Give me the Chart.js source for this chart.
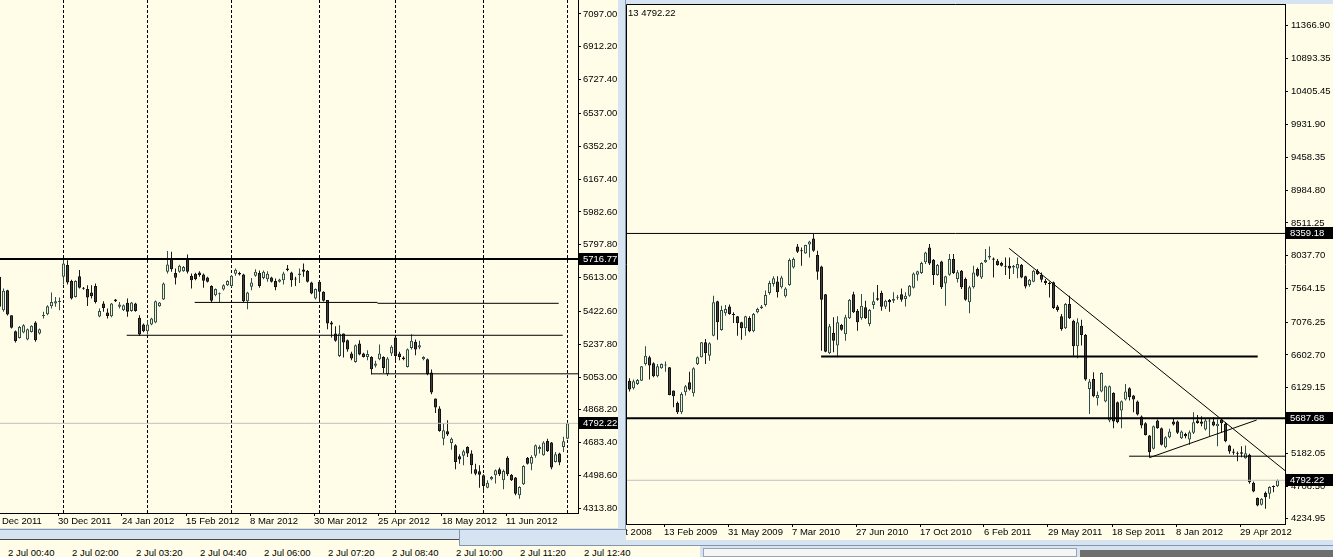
<!DOCTYPE html>
<html>
<head>
<meta charset="utf-8">
<script src="https://cdn.jsdelivr.net/npm/chart.js@4.4.1/dist/chart.umd.min.js"></script>
<style>
  html, body { margin:0; padding:0; }
  body { width:1333px; height:557px; overflow:hidden; position:relative; background:#d6e3f1; font-family:"Liberation Sans", Arial, sans-serif; }
  #w3 { position:absolute; left:0; top:539px; width:700px; height:18px; background:#fffde8; border-top:1px solid #4a4a4a; box-sizing:border-box; }
  #w3 .t { position:absolute; top:7px; font-size:9.5px; line-height:11px; color:#000; white-space:nowrap; }
  #sb { position:absolute; left:703px; top:548px; width:374px; height:9px; background:#f6f6f6; border:1px solid #98a4b4; box-sizing:border-box; }
  #dk { position:absolute; left:1080px; top:550px; width:253px; height:7px; background:#6e6e6e; }
  #wR { position:absolute; left:459px; top:0; width:874px; height:546px; background:#d6e3f1; border-left:1px solid #8494ac; border-bottom:1px solid #8494ac; box-sizing:border-box; }
  #wL { position:absolute; left:0; top:0; width:626px; height:530px; background:#d6e3f1; border-right:1px solid #8494ac; border-bottom:1px solid #8494ac; box-sizing:border-box; }
  canvas { position:absolute; display:block; background:#fffde8; }
  #cL { left:0; top:0; }
  #cR { left:626px; top:4px; }
</style>
</head>
<body>
<div id="w3"></div>
<div id="sb"></div>
<div id="dk"></div>
<div id="wR"></div>
<canvas id="cR" width="714" height="536"></canvas>
<div id="wL"></div>
<canvas id="cL" width="618" height="528"></canvas>
<script>
// ---------------- DATA ----------------
// Left chart: daily candles (7 Dec 2011 .. 2 Jul 2012)
const leftO = [5617,5429,5542,5401,5311,5273,5303,5264,5307,5360, 5298,5396,5407,5452,5467,5476,5617,5683,5593,5504,
  5621,5555,5548,5529,5566,5394,5467,5416,5395,5489, 5448,5429,5471,5425,5467,5386,5349,5311,5349,5360,
  5452,5489,5645,5717,5638,5645,5649,5717,5623,5634, 5641,5630,5613,5565,5514,5519,5546,5570,5565,5634,
  5638,5630,5480,5561,5623,5638,5611,5604,5613,5593, 5589,5598,5664,5642,5606,5627,5658,5651,5585,5495,
  5589,5533,5486,5360,5298,5172,5298,5260,5185,5138, 5241,5185,5166,5166,5116,5153,5166,5069,5185,5275,
  5185,5163,5110,5217,5251,5219,5153,5153,5078,4932, 4875,4706,4748,4682,4669,4607,4609,4659,4622,4534,
  4522,4500,4430,4477,4500,4534,4472,4599,4503,4487, 4387,4449,4599,4565,4609,4646,4612,4693,4684,4575,
  4622,4659,4706];
const leftH = [5626,5551,5545,5401,5315,5340,5350,5326,5345,5367, 5326,5420,5457,5529,5504,5500,5711,5711,5600,5598,
  5655,5560,5570,5570,5580,5439,5480,5439,5470,5492, 5476,5461,5495,5476,5471,5401,5354,5373,5386,5484,
  5476,5585,5762,5758,5664,5685,5678,5743,5636,5640, 5649,5636,5617,5570,5552,5529,5575,5598,5627,5664,
  5645,5634,5533,5611,5660,5653,5653,5649,5617,5608, 5606,5645,5683,5645,5617,5664,5692,5655,5589,5552,
  5595,5536,5486,5369,5339,5345,5298,5264,5195,5236, 5260,5189,5204,5170,5144,5236,5170,5166,5232,5278,
  5195,5170,5214,5294,5264,5257,5170,5157,5095,4932, 4888,4791,4810,4712,4674,4618,4644,4663,4641,4565,
  4556,4505,4472,4496,4532,4543,4532,4607,4507,4490, 4438,4556,4603,4612,4673,4669,4691,4706,4687,4631,
  4626,4716,4795];
const leftL = [5429,5420,5400,5326,5247,5270,5300,5260,5303,5251, 5292,5382,5401,5439,5448,5429,5574,5574,5490,5500,
  5551,5545,5453,5495,5467,5390,5420,5382,5390,5476, 5439,5425,5392,5420,5420,5285,5305,5292,5345,5356,
  5448,5486,5636,5645,5574,5640,5645,5636,5551,5598, 5617,5555,5585,5476,5508,5472,5540,5565,5560,5623,
  5625,5476,5435,5542,5617,5555,5604,5589,5585,5542, 5585,5574,5649,5561,5565,5583,5617,5585,5519,5490,
  5476,5478,5322,5275,5251,5166,5163,5195,5148,5134, 5176,5163,5148,5067,5106,5148,5076,5059,5172,5144,
  5148,5148,5106,5208,5176,5210,5148,5063,4956,4851, 4745,4669,4721,4644,4534,4565,4556,4603,4509,4500,
  4430,4411,4427,4472,4453,4496,4421,4496,4468,4387, 4368,4445,4560,4528,4599,4622,4609,4631,4534,4571,
  4556,4631,4702];
const leftC = [5448,5538,5405,5330,5255,5335,5345,5322,5341,5260, 5322,5401,5452,5476,5480,5480,5692,5585,5495,5593,
  5555,5550,5500,5508,5476,5424,5442,5397,5467,5480, 5461,5457,5420,5472,5425,5292,5311,5349,5382,5480,
  5472,5580,5687,5660,5612,5679,5673,5645,5598,5604, 5626,5595,5589,5482,5548,5525,5570,5593,5623,5657,
  5630,5480,5529,5585,5645,5565,5645,5634,5589,5559, 5602,5636,5655,5598,5602,5636,5645,5589,5523,5548,
  5533,5482,5354,5349,5257,5298,5247,5208,5157,5232, 5180,5166,5182,5097,5129,5185,5104,5157,5223,5172,
  5166,5153,5210,5257,5208,5232,5166,5069,4966,4881, 4749,4753,4729,4706,4575,4588,4635,4622,4556,4509,
  4503,4440,4458,4490,4528,4505,4524,4505,4472,4396, 4434,4552,4565,4603,4669,4659,4684,4635,4543,4618,
  4571,4691,4792.22];
const leftTickIdx = [-1, 15, 31, 47, 63, 79, 95, 111, 127];
const leftTickLabels = ['7 Dec 2011','30 Dec 2011','24 Jan 2012','15 Feb 2012','8 Mar 2012','30 Mar 2012','25 Apr 2012','18 May 2012','11 Jun 2012'];
const leftMonthIdx = [16, 37, 58, 80, 99, 121, 142];
const leftYTicks = [7097.00, 6912.20, 6727.40, 6537.00, 6352.20, 6167.40, 5982.60, 5797.80, 5613.00, 5422.60, 5237.80, 5053.00, 4868.20, 4683.40, 4498.60, 4313.80];
const leftLevelValues = [5716.77, 5473, 5468, 5288, 5071, 4792.22];
const leftLevelStart  = [-10, 48.8, 94.5, 31.8, 93.0, -10];
const leftLevelEnd    = [200, 94.5, 139.8, 140.8, 200, 200];
const leftTagValues = [5716.77, 4792.22];

// Right chart: weekly candles (2008 .. Jul 2012)
const rightO = [6232,6122,6184,6232,6473,6569,6483,6295,6410,6449, 6425,6088,5910,5775,6064,6208,6050,6473,6569,6786,
  6593,6882,7378,6964,7204,7305,7185,7161,7074,6988, 7137,6945,7219,7277,7325,7498,7628,7666,7580,7450,
  7613,7868,8172,8109,8070,8200,8287,8046,7883,7479, 6627,6920,6738,7036,6901,7132,7479,7243,7132,7291,
  7050,7325,7421,7498,7301,7397,7387,7430,7479,7411, 7459,7575,7763,7787,7941,8157,7979,7758,7955,7637,
  7763,7989,7700,7820,7700,7363,7580,7844,7724,7941, 8013,7998,7965,7931,7892,7892,7868,7854,7907,7739,
  7613,7661,7820,7758,7676,7642,7652,7305,7161,6988, 7339,7099,6728,7026,6892,6112,6256,5977,6074,5929,
  5655,6054,5920,5799,5958,6122,6016,5929,5713,5616, 5438,5246,5655,5544,5270,5414,5640,5640,5400,5462,
  5381,5477,5655,5640,5525,5640,5640,5573,5669,5607, 5294,5207,5188,5198,5111,5159,4755,4534,4438,4611,
  4596,4707,4707];
const rightH = [6266,6247,6256,6444,6728,6593,6497,6473,6480,6507, 6430,6090,5929,6064,6170,6362,6425,6579,6790,6834,
  6786,7459,7387,7315,7325,7334,7219,7165,7084,7171, 7161,7209,7286,7325,7536,7676,7739,7739,7748,7580,
  7998,8013,8205,8157,8195,8253,8350,8109,7892,7483, 7050,7147,7161,7050,7185,7411,7517,7267,7484,7387,
  7267,7508,7613,7532,7402,7411,7508,7469,7565,7508, 7613,7796,7820,7950,8095,8205,7989,7917,7965,7748,
  8061,8061,7830,7830,7724,7604,7892,7868,7941,8133, 8172,8013,7989,7950,8013,8013,7902,8013,7917,7748,
  7700,7835,7844,7796,7700,7661,7666,7325,7195,7354, 7459,7113,7132,7113,6906,6256,6353,6074,6353,6160,
  6160,6064,5929,5944,6184,6136,6025,5944,5727,5631, 5448,5583,5669,5554,5429,5535,5679,5655,5510,5477,
  5510,5775,5737,5718,5679,5679,5703,5669,5689,5631, 5304,5246,5207,5284,5294,5174,4774,4543,4534,4630,
  4707,4717,4803];
const rightL = [6074,6102,6170,6227,6449,6247,6280,6280,6405,6362, 6020,5847,5751,5751,6016,6088,6001,6459,6565,6473,
  6521,6872,6824,6954,7171,7185,7065,6882,6824,6882, 6930,6930,7204,7267,7305,7474,7594,7435,7565,7435,
  7604,7854,8075,7892,8066,8013,8095,7690,6665,6641, 6617,6641,6569,6954,6810,7123,7209,6954,7113,7123,
  7017,7267,7387,7243,7267,7228,7354,7402,7373,7305, 7445,7565,7676,7772,7917,7902,7613,7748,7556,7315,
  7748,7772,7650,7556,7387,7204,7565,7734,7700,7931, 7979,7724,7892,7883,7758,7700,7772,7710,7710,7565,
  7589,7652,7758,7652,7613,7435,7267,7228,6954,6978, 7123,6593,6555,6738,6232,5751,5992,5871,6064,5920,
  5631,5544,5616,5544,5944,5944,5775,5727,5544,5438, 5126,5236,5535,5294,5256,5400,5583,5462,5390,5400,
  5304,5462,5607,5573,5510,5429,5573,5284,5487,5342, 5174,5159,5068,5126,5102,4741,4620,4418,4428,4380,
  4524,4620,4693];
const rightC = [6102,6223,6242,6439,6593,6449,6295,6439,6473,6459, 6025,6006,5775,6040,6150,6102,6410,6569,6786,6632,
  6771,7363,7074,7252,7267,7195,7180,7065,6988,7161, 6945,7195,7267,7305,7469,7642,7710,7508,7724,7565,
  7974,7989,8095,8100,8191,8244,8109,7806,7402,6651, 7017,6810,7074,6969,7147,7402,7219,7074,7315,7132,
  7253,7378,7402,7301,7387,7363,7411,7440,7402,7459, 7604,7782,7811,7931,8085,7926,7758,7902,7580,7739,
  7989,7787,7800,7580,7402,7580,7796,7748,7931,7974, 8037,7979,7902,7892,7878,7854,7892,7917,7724,7594,
  7690,7820,7772,7690,7642,7628,7281,7253,6978,7339, 7132,6728,7074,6892,6247,6218,6006,6025,6343,6151,
  6151,5640,5631,5934,6074,5992,5958,5742,5583,5448, 5198,5573,5544,5304,5414,5496,5597,5477,5496,5429,
  5486,5631,5621,5607,5655,5655,5583,5607,5616,5357, 5207,5188,5174,5174,5183,4765,4630,4428,4524,4548,
  4693,4693,4792.22];
const rightTickIdx = [-7, 9, 25, 41, 57, 73, 89, 105, 121, 137, 153];
const rightTickLabels = ['26 Oct 2008','13 Feb 2009','31 May 2009','7 Mar 2010','27 Jun 2010','17 Oct 2010','6 Feb 2011','29 May 2011','18 Sep 2011','8 Jan 2012','29 Apr 2012'];
const rightYTicks = [11366.90, 10893.35, 10405.45, 9931.90, 9458.35, 8984.80, 8511.25, 8037.70, 7564.15, 7076.25, 6602.70, 6129.15, 5655.60, 5182.05, 4708.50, 4234.95];
const rightLevelValues = [8359.18, 6580, 5687.68, 5140, 4792.22];
const rightLevelStart  = [-10, 47.9, -10, 124.9, -10];
const rightLevelEnd    = [200, 157.05, 200, 200, 200];
const rightTrendX = [[94.9, 170], [129.95, 156.8]];
const rightTrendY = [[8144, 4646], [5118, 5663]];
const rightTagValues = [8359.18, 5687.68, 4792.22];
const rightTitle = '13 4792.22';

// Third (background) window time labels
const w3Labels = ['2 Jul 00:40','2 Jul 02:00','2 Jul 03:20','2 Jul 04:40','2 Jul 06:00','2 Jul 07:20','2 Jul 08:40','2 Jul 10:00','2 Jul 11:20','2 Jul 12:40'];

// ---------------- STYLE ----------------
const FAMILY = '"Liberation Sans", Arial, sans-serif';
const FONT = {family: FAMILY, size: 9.5};
const FONT_CSS = '9.5px ' + FAMILY;
const BULL_FILL = '#f4f1c4', BULL_LINE = '#2f4f4f', BEAR_FILL = '#404040', BEAR_LINE = '#111111';
const BULL_WICK = '#2f4f4f', BEAR_WICK = '#1a1a1a';

const w3 = document.getElementById('w3');
w3Labels.forEach((t, i) => {
  const s = document.createElement('span');
  s.className = 't'; s.textContent = t; s.style.left = (8 + 64 * i) + 'px';
  w3.appendChild(s);
});

function candles(O, H, L, C) {
  const body = [], wick = [];
  for (let i = 0; i < O.length; i++) {
    body.push({x: i, y: [O[i], C[i]]});
    wick.push({x: i, y: [L[i], H[i]]});
  }
  const up = c => C[c.dataIndex] >= O[c.dataIndex];
  return [
    {type: 'bar', data: body, order: 2, grouped: false, barThickness: 3, minBarLength: 1,
     borderWidth: 1, borderSkipped: false, inflateAmount: 0,
     backgroundColor: c => up(c) ? BULL_FILL : BEAR_FILL,
     borderColor: c => up(c) ? BULL_LINE : BEAR_LINE},
    {type: 'bar', data: wick, order: 3, grouped: false, barThickness: 1, minBarLength: 1,
     borderWidth: 0, inflateAmount: 0,
     backgroundColor: c => up(c) ? BULL_WICK : BEAR_WICK}
  ];
}
function seg(x0, x1, y0, y1, w, color) {
  return {type: 'line', data: [{x: x0, y: y0}, {x: x1, y: y1}], borderColor: color, borderWidth: w,
          pointRadius: 0, order: 0, clip: 0, tension: 0, fill: false};
}
function zeroPad(s) { s.paddingLeft = 0; s.paddingRight = 0; s.paddingTop = 0; s.paddingBottom = 0; }
function tagPlugin(values) {
  return {id: 'tags', afterDraw(chart) {
    const {ctx, chartArea: a, scales: {y}} = chart;
    ctx.save();
    ctx.font = FONT_CSS; ctx.textBaseline = 'middle'; ctx.textAlign = 'left';
    for (const v of values) {
      const py = Math.round(y.getPixelForValue(v));
      ctx.fillStyle = '#000';
      ctx.fillRect(a.right + 1, py - 6, chart.width - a.right - 1, 12);
      ctx.fillStyle = '#fff';
      ctx.fillText(v.toFixed(2), a.right + 5, py + 0.5);
    }
    ctx.restore();
  }};
}
function baseOptions(xmin, xmax, ymin, ymax, yTicks, tickIdx, tickLabels, yWidth, xHeight, yPad) {
  return {
    responsive: false, animation: false, devicePixelRatio: 1, events: [],
    layout: {padding: 0, autoPadding: false},
    plugins: {legend: {display: false}, tooltip: {enabled: false}, title: {display: false}},
    scales: {
      x: {type: 'linear', position: 'bottom', bounds: 'data', offset: false, min: xmin, max: xmax,
          afterBuildTicks: s => { s.ticks = tickIdx.map(v => ({value: v - 0.375})); },
          afterFit: s => { s.height = xHeight; zeroPad(s); },
          ticks: {autoSkip: false, maxRotation: 0, minRotation: 0, align: 'start', padding: 0,
                  color: '#000', font: FONT, callback: (v, i) => tickLabels[i]},
          grid: {offset: false, drawOnChartArea: false, drawTicks: true, tickLength: 3, color: '#000'},
          border: {display: true, color: '#000', width: 1}},
      y: {type: 'linear', position: 'right', bounds: 'data', beginAtZero: false, min: ymin, max: ymax,
          afterBuildTicks: s => { s.ticks = yTicks.map(v => ({value: v})); },
          afterFit: s => { s.width = yWidth; zeroPad(s); },
          ticks: {autoSkip: false, padding: yPad, color: '#000', font: FONT, callback: v => Number(v).toFixed(2)},
          grid: {drawOnChartArea: false, drawTicks: true, tickLength: 3, color: '#000'},
          border: {display: true, color: '#000', width: 1}}
    }
  };
}

Chart.defaults.font.family = FAMILY;

// ---------------- LEFT CHART ----------------
const lMin = 0.125, lMax = 0.125 + 578 / 4;
const leftSets = leftLevelValues.map((v, i) =>
  seg(leftLevelStart[i], leftLevelEnd[i], v, v, i === 0 ? 2 : 1, i === leftLevelValues.length - 1 ? '#c0c0c0' : '#000'));
const optL = baseOptions(lMin, lMax, 4287.3, 7175.8, leftYTicks, leftTickIdx, leftTickLabels, 40, 15, 2);
optL.scales.xg = {type: 'linear', axis: 'x', position: 'bottom', bounds: 'data', offset: false, min: lMin, max: lMax,
  afterBuildTicks: s => { s.ticks = leftMonthIdx.map(v => ({value: v})); },
  afterFit: s => { s.height = 0; zeroPad(s); },
  ticks: {display: false},
  grid: {offset: false, drawOnChartArea: true, drawTicks: false, color: '#000', lineWidth: 1},
  border: {display: false, dash: [3, 2]}};
new Chart(document.getElementById('cL'), {
  type: 'bar',
  data: {datasets: [...leftSets, ...candles(leftO, leftH, leftL, leftC)]},
  options: optL,
  plugins: [tagPlugin(leftTagValues)]
});

// ---------------- RIGHT CHART ----------------
const rMin = -0.875, rMax = -0.875 + 659 / 4;
const rightSets = rightLevelValues.map((v, i) =>
  seg(rightLevelStart[i], rightLevelEnd[i], v, v, (i === 1 || i === 2) ? 2 : 1, i === rightLevelValues.length - 1 ? '#c0c0c0' : '#000'));
rightTrendX.forEach((xs, i) => rightSets.push(seg(xs[0], xs[1], rightTrendY[i][0], rightTrendY[i][1], 1, '#000')));
const frameR = {id: 'frameR', afterDraw(chart) {
  const {ctx, chartArea: a} = chart;
  ctx.save();
  ctx.strokeStyle = '#000'; ctx.lineWidth = 1;
  ctx.beginPath();
  ctx.moveTo(a.left + 0.5, a.bottom); ctx.lineTo(a.left + 0.5, a.top + 0.5); ctx.lineTo(a.right, a.top + 0.5);
  ctx.stroke();
  ctx.font = FONT_CSS; ctx.fillStyle = '#000'; ctx.textBaseline = 'middle'; ctx.textAlign = 'left';
  ctx.fillText(rightTitle, a.left + 2, a.top + 9);
  ctx.restore();
}};
new Chart(document.getElementById('cR'), {
  type: 'bar',
  data: {datasets: [...rightSets, ...candles(rightO, rightH, rightL, rightC)]},
  options: baseOptions(rMin, rMax, 4160, 11675, rightYTicks, rightTickIdx, rightTickLabels, 55, 16, 3),
  plugins: [frameR, tagPlugin(rightTagValues)]
});
</script>
</body>
</html>
